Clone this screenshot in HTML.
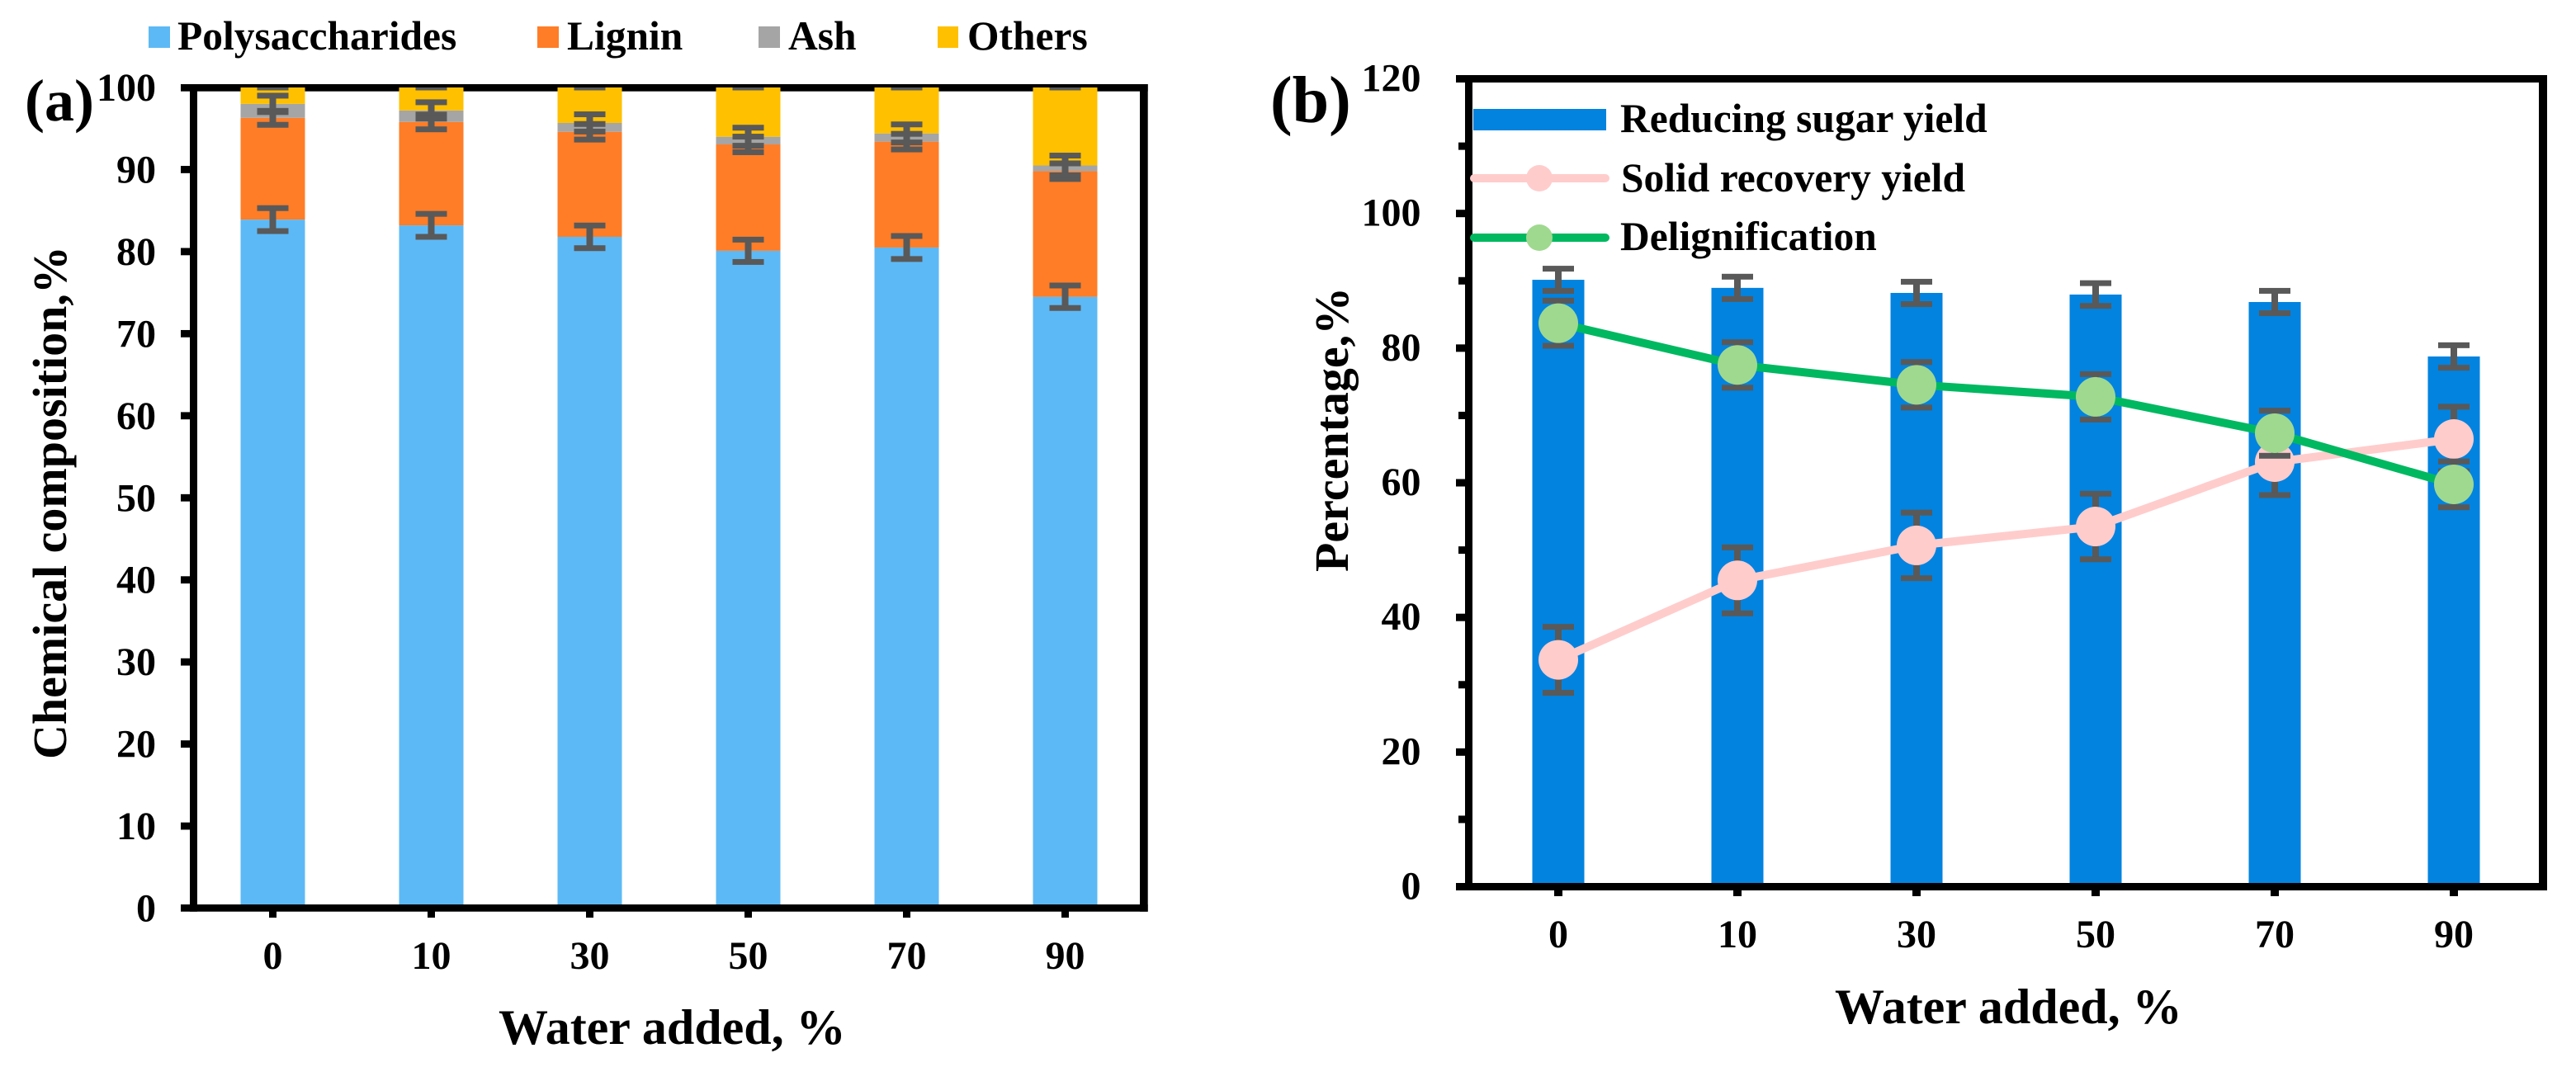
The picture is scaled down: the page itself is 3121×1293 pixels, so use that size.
<!DOCTYPE html>
<html lang="en">
<head>
<meta charset="utf-8">
<title>Chemical composition and yields vs water added</title>
<style>
html,body{margin:0;padding:0;background:#fff;}
body{width:3121px;height:1293px;overflow:hidden;}
svg{display:block;}
text{font-family:"Liberation Serif",serif;font-weight:bold;fill:#000;}
</style>
</head>
<body>
<svg id="figure" xmlns="http://www.w3.org/2000/svg" width="3121" height="1293" viewBox="0 0 3121 1293">
  <defs>
    <clipPath id="clip-a"><rect x="219" y="106" width="1172" height="1000"/></clipPath>
  </defs>
  <rect x="0" y="0" width="3121" height="1293" fill="#fff"/>
  <g id="panel-a"></g>
  <g id="panel-b"></g>

  <text x="30" y="146" font-size="72">(a)</text>
  <text x="1539" y="148" font-size="80">(b)</text>

  <g>
    <rect x="180" y="32" width="26" height="26" fill="#5DB9F5"/>
    <text x="215" y="60" font-size="49.5">Polysaccharides</text>
    <rect x="651" y="32" width="26" height="26" fill="#FF7D27"/>
    <text x="687" y="60" font-size="49.5">Lignin</text>
    <rect x="919" y="32" width="26" height="26" fill="#A5A5A5"/>
    <text x="955" y="60" font-size="49.5">Ash</text>
    <rect x="1136" y="32" width="25" height="26" fill="#FFC000"/>
    <text x="1172" y="60" font-size="49.5">Others</text>
  </g>

  <text transform="translate(80 920) rotate(-90)" font-size="58">Chemical composition,%</text>
  <text x="604" y="1265" font-size="60">Water added, %</text>
  <text transform="translate(1633 693) rotate(-90)" font-size="58">Percentage,%</text>
  <text x="2223" y="1240" font-size="60">Water added, %</text>
</svg>

<script>
// Shared categories
const categories = ['0', '10', '30', '50', '70', '90'];

// Panel (a): cumulative stack tops (the stacked chart's printed heights)
const polysaccharidesTop = [83.9, 83.2, 81.8, 80.1, 80.5, 74.5];
const ligninTop = [96.3, 95.8, 94.6, 93.06, 93.4, 89.8];
const ashTop = [98.0, 97.2, 95.68, 94.0, 94.4, 90.5];
const othersTop = [100, 100, 100, 100, 100, 100];
const polysaccharidesErr = [1.4, 1.4, 1.38, 1.36, 1.4, 1.37];
const ligninErr = [0.85, 0.9, 0.95, 0.95, 0.95, 0.95];
const ashErr = [1.0, 1.0, 1.05, 1.1, 1.1, 1.2];
const othersErr = [0, 0, 0, 0, 0, 0];
const yTicksA = [0, 10, 20, 30, 40, 50, 60, 70, 80, 90, 100];

// Panel (b): series values
const sugarYield = [90.15, 88.95, 88.2, 87.96, 86.85, 78.76];
const sugarErr = [1.65, 1.66, 1.66, 1.69, 1.66, 1.67];
const solidRecovery = [33.7, 45.5, 50.7, 53.5, 63.07, 66.5];
const solidErr = [4.9, 4.9, 4.87, 4.87, 4.9, 4.8];
const delignification = [83.7, 77.5, 74.55, 72.76, 67.36, 59.76];
const delignErr = [3.35, 3.38, 3.38, 3.38, 3.35, 3.4];
const yTicksB = [0, 20, 40, 60, 80, 100, 120];
const yMinorTicksB = [10, 30, 50, 70, 90, 110];

const SVGNS = 'http://www.w3.org/2000/svg';
function mk(tag, attrs, parent) {
  const e = document.createElementNS(SVGNS, tag);
  for (const k in attrs) e.setAttribute(k, attrs[k]);
  parent.appendChild(e);
  return e;
}

// Axis functions
function xA(i) { return 234.5 + 192 * (i + 0.5); }
function yA(v) { return 1100.5 - 9.945 * v; }
function xB(i) { return 1779.5 + 217 * (i + 0.5); }
function yB(v) { return 1074.5 - 8.158 * v; }

function errorBar(parent, x, yTopPx, yBotPx, clip) {
  const g = mk('g', clip ? {'clip-path': 'url(#clip-a)'} : {}, parent);
  
  
  const stem = mk('rect', {x: x - 4, y: yTopPx, width: 8, height: Math.max(0, yBotPx - yTopPx), fill: '#595959'}, g);
  
  
  const capT = mk('rect', {x: x - 19, y: yTopPx - 3.5, width: 38, height: 7, fill: '#595959'}, g);
  
  
  const capB = mk('rect', {x: x - 19, y: yBotPx - 3.5, width: 38, height: 7, fill: '#595959'}, g);
  
  
}

function spine(parent, x, y, w, h) {
  const r = mk('rect', {x: x, y: y, width: w, height: h, fill: '#000'}, parent);
  
  
}

// ---------- Panel (a) ----------
(function () {
  const p = document.getElementById('panel-a');
  spine(p, 219, 102, 1171.7, 8.7);
  spine(p, 1381, 102, 9.7, 1002.7);

  const stacks = [
    {name: 'polysaccharides', tops: polysaccharidesTop, errs: polysaccharidesErr, fill: '#5DB9F5'},
    {name: 'lignin', tops: ligninTop, errs: ligninErr, fill: '#FF7D27'},
    {name: 'ash', tops: ashTop, errs: ashErr, fill: '#A5A5A5'},
    {name: 'others', tops: othersTop, errs: othersErr, fill: '#FFC000'}
  ];
  const barW = 78;
  stacks.forEach(function (s, si) {
    categories.forEach(function (c, i) {
      const base = si === 0 ? 0 : stacks[si - 1].tops[i];
      const r = mk('rect', {x: xA(i) - barW / 2, y: yA(s.tops[i]), width: barW, height: yA(base) - yA(s.tops[i]), fill: s.fill}, p);
      
      
    });
  });
  stacks.forEach(function (s) {
    categories.forEach(function (c, i) {
      errorBar(p, xA(i), yA(s.tops[i] + s.errs[i]), yA(s.tops[i] - s.errs[i]), true);
    });
  });

  spine(p, 230, 102, 9, 1002.7);
  spine(p, 219, 1096, 1171.7, 8.7);

  yTicksA.forEach(function (v) {
    if (v !== 0 && v !== 100) {
      const t = mk('rect', {x: 219, y: yA(v) - 4.4, width: 12, height: 8.8, fill: '#000'}, p);
      
      
    }
    const l = mk('text', {x: 189, y: yA(v) + 16, 'font-size': 48, 'text-anchor': 'end'}, p);
    
    
    l.textContent = String(v);
  });
  categories.forEach(function (c, i) {
    const t = mk('rect', {x: xA(i) - 4.5, y: 1104, width: 9, height: 8, fill: '#000'}, p);
    
    
    const l = mk('text', {x: xA(i), y: 1174, 'font-size': 48, 'text-anchor': 'middle'}, p);
    
    
    l.textContent = c;
  });
})();

// ---------- Panel (b) ----------
(function () {
  const p = document.getElementById('panel-b');
  spine(p, 1764, 91, 1322, 9);
  spine(p, 3076, 91, 10, 988);

  const barW = 63;
  categories.forEach(function (c, i) {
    const r = mk('rect', {x: xB(i) - barW / 2, y: yB(sugarYield[i]), width: barW, height: yB(0) - yB(sugarYield[i]), fill: '#0283DF'}, p);
    
    
  });
  categories.forEach(function (c, i) {
    errorBar(p, xB(i), yB(sugarYield[i] + sugarErr[i]), yB(sugarYield[i] - sugarErr[i]), false);
  });

  function lineSeries(name, values, errs, lineColor, markerColor) {
    categories.forEach(function (c, i) {
      errorBar(p, xB(i), yB(values[i] + errs[i]), yB(values[i] - errs[i]), false);
    });
    const pts = values.map(function (v, i) { return xB(i) + ',' + yB(v); }).join(' ');
    const line = mk('polyline', {points: pts, fill: 'none', stroke: lineColor, 'stroke-width': 10, 'stroke-linejoin': 'round'}, p);
    
    
    values.forEach(function (v, i) {
      const m = mk('circle', {cx: xB(i), cy: yB(v), r: 24, fill: markerColor}, p);
      
      
    });
  }
  lineSeries('solid-recovery', solidRecovery, solidErr, '#FFCCCC', '#FFCCCC');
  lineSeries('delignification', delignification, delignErr, '#00B860', '#9FD98F');

  spine(p, 1775, 91, 9, 988);
  spine(p, 1764, 1070, 1322, 9);

  yTicksB.forEach(function (v) {
    if (v !== 0 && v !== 120) {
      const t = mk('rect', {x: 1764, y: yB(v) - 4.5, width: 12, height: 9, fill: '#000'}, p);
      
      
    }
    const l = mk('text', {x: 1721.5, y: yB(v) + 15, 'font-size': 48, 'text-anchor': 'end'}, p);
    
    
    l.textContent = String(v);
  });
  yMinorTicksB.forEach(function (v) {
    const t = mk('rect', {x: 1767, y: yB(v) - 4.5, width: 9, height: 9, fill: '#000'}, p);
    
    
  });
  categories.forEach(function (c, i) {
    const t = mk('rect', {x: xB(i) - 5, y: 1078, width: 10, height: 8, fill: '#000'}, p);
    
    
    const l = mk('text', {x: xB(i), y: 1148, 'font-size': 48, 'text-anchor': 'middle'}, p);
    
    
    l.textContent = c;
  });

  // Legend
  const lg = mk('g', {}, p);
  
  
  const sw = mk('rect', {x: 1785, y: 132, width: 161, height: 26, fill: '#0283DF'}, lg);
  
  
  const t1 = mk('text', {x: 1963, y: 160, 'font-size': 49.5}, lg);
  
  
  t1.textContent = 'Reducing sugar yield';
  const l2 = mk('line', {x1: 1786, x2: 1945, y1: 216, y2: 216, stroke: '#FFCCCC', 'stroke-width': 10, 'stroke-linecap': 'round'}, lg);
  
  
  const m2 = mk('circle', {cx: 1865, cy: 216, r: 16, fill: '#FFCCCC'}, lg);
  
  
  const t2 = mk('text', {x: 1964, y: 232, 'font-size': 49.5}, lg);
  
  
  t2.textContent = 'Solid recovery yield';
  const l3 = mk('line', {x1: 1786, x2: 1945, y1: 288, y2: 288, stroke: '#00B860', 'stroke-width': 10, 'stroke-linecap': 'round'}, lg);
  
  
  const m3 = mk('circle', {cx: 1865, cy: 288, r: 16, fill: '#9FD98F'}, lg);
  
  
  const t3 = mk('text', {x: 1963, y: 303, 'font-size': 49.5}, lg);
  
  
  t3.textContent = 'Delignification';
})();
</script>
</body>
</html>
